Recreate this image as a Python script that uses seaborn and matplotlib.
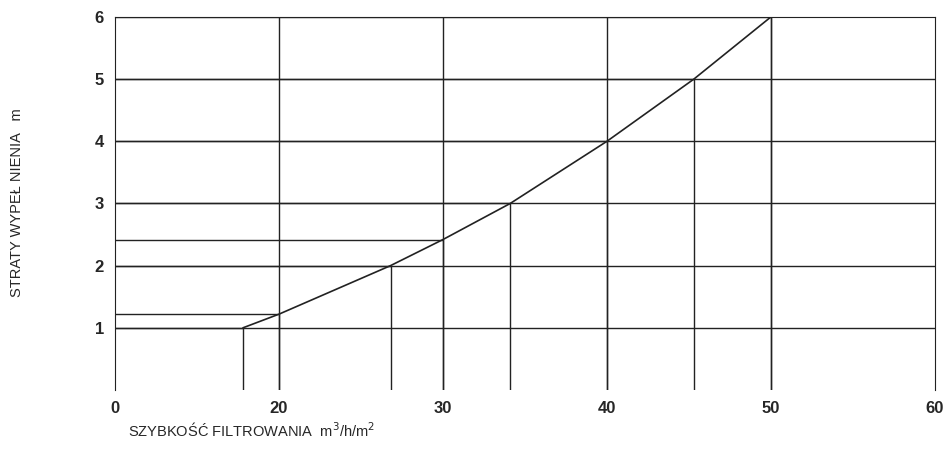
import matplotlib
matplotlib.use("Agg")
import matplotlib.pyplot as plt
import seaborn as sns
import pandas as pd

speed = [17.8, 20, 26.8, 30, 34.1, 40, 45.3, 50]
loss = [1.0, 1.22, 2.0, 2.42, 3.0, 4.0, 5.0, 6.0]
x_tick_pos = [10, 20, 30, 40, 50, 60]
x_tick_labels = ["0", "20", "30", "40", "50", "60"]
y_ticks = [1, 2, 3, 4, 5, 6]
grid_x = [20, 30, 40, 50]
grid_y = [1, 2, 3, 4, 5]

sns.set_style("white")
plt.rcParams['font.family'] = ['Liberation Sans', 'DejaVu Sans']
fig = plt.figure(figsize=(9.51, 4.71), dpi=100)
ax = fig.add_axes([0.121, 0.172, 0.862, 0.792])

for gx in grid_x:
    ax.axvline(gx, color="#222", lw=1)
for gy in grid_y:
    ax.axhline(gy, color="#222", lw=1)
for sx, ly in zip(speed, loss):
    ax.plot([sx, sx], [0, ly], color="#222", lw=1)
    ax.plot([10, sx], [ly, ly], color="#222", lw=1)

df = pd.DataFrame({"speed": speed, "loss": loss})
sns.lineplot(data=df, x="speed", y="loss", ax=ax, color="#222", lw=1.2)

ax.set_xlim(10, 60)
ax.set_ylim(0, 6)
ax.set_xticks(x_tick_pos)
ax.set_xticklabels(x_tick_labels)
ax.set_yticks(y_ticks)
ax.tick_params(length=0, labelsize=12, pad=8)
for t in ax.get_xticklabels() + ax.get_yticklabels():
    t.set_fontweight("bold")
ax.spines["bottom"].set_visible(False)
for s in ["top", "right", "left"]:
    ax.spines[s].set_color("#222")
ax.set_xlabel("")
ax.set_ylabel("")
fig.text(0.135, 0.085, "SZYBKOŚĆ FILTROWANIA  m$^3$/h/m$^2$", fontsize=10.5, va="center")
fig.text(0.018, 0.57, "STRATY WYPEŁ NIENIA   m", fontsize=10.5, rotation=90, va="center", ha="center")
fig.savefig("out.png", dpi=100)
